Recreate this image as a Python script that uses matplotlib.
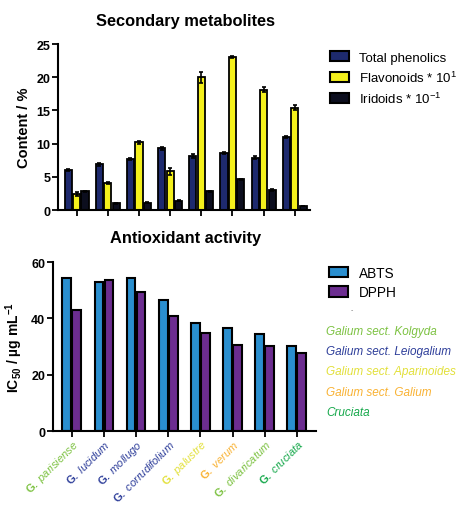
import numpy as np
import matplotlib
matplotlib.use("Agg")
import matplotlib.pyplot as plt
from matplotlib.patches import Patch

plt.rcParams['font.family'] = ['Liberation Sans', 'DejaVu Sans']
plt.rcParams['mathtext.fontset'] = 'custom'
plt.rcParams['mathtext.rm'] = 'Liberation Sans:bold'
plt.rcParams['mathtext.bf'] = 'Liberation Sans:bold'
plt.rcParams['mathtext.it'] = 'Liberation Sans:italic'

# --- datos ---
especies = ["parisiense", "lucidum", "mollugo", "corrudifolium",
            "palustre", "verum", "divaricatum", "cruciata"]
colores_especies = ["#7DC242", "#2E3E9A", "#2E3E9A", "#2E3E9A",
                    "#E2E03A", "#F9B233", "#7DC242", "#16A84B"]

fenoles = [6.1, 6.9, 7.7, 9.3, 8.2, 8.6, 7.9, 11.0]
fenoles_err = [0.15, 0.2, 0.2, 0.25, 0.3, 0.15, 0.2, 0.15]
flavonoides = [2.4, 4.0, 10.2, 5.8, 20.0, 23.0, 18.1, 15.4]
flavonoides_err = [0.3, 0.15, 0.25, 0.5, 0.8, 0.15, 0.4, 0.35]
iridoides = [2.8, 1.0, 1.1, 1.4, 2.8, 4.6, 3.0, 0.6]
iridoides_err = [0.1, 0.05, 0.05, 0.05, 0.1, 0.1, 0.15, 0.05]

abts = [54.4, 52.9, 54.4, 46.7, 38.3, 36.5, 34.5, 30.2]
dpph = [43.0, 53.7, 49.5, 40.7, 35.0, 30.6, 30.2, 27.6]

secciones = ["Galium sect. Kolgyda", "Galium sect. Leiogalium",
             "Galium sect. Aparinoides", "Galium sect. Galium", "Cruciata"]
colores_secciones = ["#7DC242", "#2E3E9A", "#E2E03A", "#F9B233", "#16A84B"]

x = np.arange(len(especies))

fig = plt.figure(figsize=(4.59, 5.06), dpi=100)

def estilo(ax):
    for s in ['top', 'right']:
        ax.spines[s].set_visible(False)
    for s in ['left', 'bottom']:
        ax.spines[s].set_linewidth(1.5)
    ax.tick_params(width=1.3, length=4, labelsize=9, pad=1.5)
    for t in ax.get_yticklabels():
        t.set_fontweight('bold')

# --- Metabolitos secundarios ---
ax1 = fig.add_axes([0.126, 0.583, 0.549, 0.328])
w = 0.27
kw = dict(edgecolor='black', linewidth=1.3, capsize=1.5,
          error_kw=dict(elinewidth=1.2, capthick=1.2))
ax1.bar(x - w, fenoles, 0.23, yerr=fenoles_err, color='#1E2A6E', **kw)
ax1.bar(x, flavonoides, 0.23, yerr=flavonoides_err, color='#F4F01C', **kw)
ax1.bar(x + w, iridoides, 0.23, yerr=iridoides_err, color='#0C0E1E', **kw)
ax1.set_xlim(-0.6, 7.48)
ax1.set_ylim(0, 25)
ax1.set_yticks([0, 5, 10, 15, 20, 25])
ax1.set_xticks(x)
ax1.set_xticklabels([])
estilo(ax1)
ax1.set_ylabel("Content / %", fontsize=10.5, fontweight='bold', labelpad=4)
fig.text(0.405, 0.958, "Secondary metabolites", fontsize=11.8,
         fontweight='bold', ha='center', va='center')
h1 = [Patch(facecolor='#1E2A6E', edgecolor='black', linewidth=1.5),
      Patch(facecolor='#F4F01C', edgecolor='black', linewidth=1.5),
      Patch(facecolor='#0C0E1E', edgecolor='black', linewidth=1.5)]
ax1.legend(h1, ["Total phenolics", r"Flavonoids * 10$^{\mathregular{1}}$",
                r"Iridoids * 10$^{\mathregular{-1}}$"],
           loc='upper left', bbox_to_anchor=(1.06, 0.99), frameon=False,
           fontsize=9.5, handlelength=1.4, handleheight=0.8,
           handletextpad=0.8, labelspacing=0.45, borderaxespad=0)

# --- Actividad antioxidante ---
ax2 = fig.add_axes([0.115, 0.146, 0.573, 0.334])
w2 = 0.29
kw2 = dict(edgecolor='black', linewidth=1.5)
ax2.bar(x - w2 / 2 - 0.01, abts, 0.27, color='#2A8FCF', **kw2)
ax2.bar(x + w2 / 2 + 0.01, dpph, 0.27, color='#6C2D90', **kw2)
ax2.set_xlim(-0.59, 7.59)
ax2.set_ylim(0, 60)
ax2.set_yticks([0, 20, 40, 60])
ax2.set_xticks(x)
estilo(ax2)
ax2.tick_params(axis='x', pad=0.5)
ax2.set_xticklabels([r"$\mathbf{G.}$ " + e for e in especies], rotation=45,
                    ha='right', rotation_mode='anchor', fontstyle='italic',
                    fontsize=8.0)
for t, c in zip(ax2.get_xticklabels(), colores_especies):
    t.set_color(c)
ax2.set_ylabel(r"IC$_{\mathregular{50}}$ / µg mL$^{\mathregular{-1}}$",
               fontsize=10, fontweight='bold', labelpad=4)
fig.text(0.405, 0.528, "Antioxidant activity", fontsize=11.8,
         fontweight='bold', ha='center', va='center')
h2 = [Patch(facecolor='#2A8FCF', edgecolor='black', linewidth=1.5),
      Patch(facecolor='#6C2D90', edgecolor='black', linewidth=1.5)]
ax2.legend(h2, ["ABTS", "DPPH"], loc='upper left',
           bbox_to_anchor=(1.03, 1.01), frameon=False, fontsize=9.8,
           handlelength=1.4, handleheight=0.8, handletextpad=0.8,
           labelspacing=0.4, borderaxespad=0)
fig.text(0.766, 0.383, "-", fontsize=5, color='#777777', ha='center')

for i, (s, c) in enumerate(zip(secciones, colores_secciones)):
    fig.text(0.71, 0.344 - i * 0.04, s, color=c, fontsize=8.5,
             fontstyle='italic', va='center')

fig.savefig("out.png", dpi=100)
